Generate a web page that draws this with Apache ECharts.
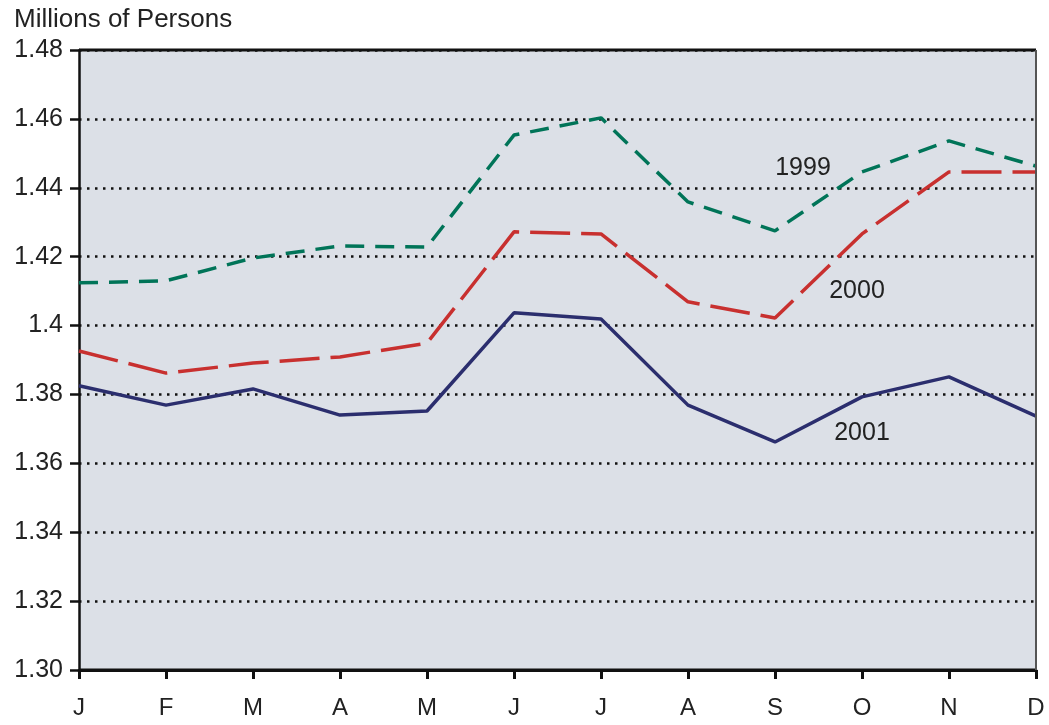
<!DOCTYPE html>
<html><head><meta charset="utf-8">
<script src="https://cdn.jsdelivr.net/npm/echarts@6/dist/echarts.min.js"></script>
<style>html,body{margin:0;padding:0;background:#fff}#c{width:1049px;height:725px}</style>
</head><body><div id="c"></div>
<script>
const months = ['J','F','M','A','M','J','J','A','S','O','N','D'];
const s1999 = [1.4124,1.4130,1.4196,1.4231,1.4228,1.4553,1.4603,1.4359,1.4275,1.4446,1.4536,1.4463];
const s2000 = [1.3926,1.3862,1.3891,1.3909,1.3949,1.4272,1.4266,1.4069,1.4022,1.4266,1.4446,1.4446];
const s2001 = [1.3825,1.3769,1.3816,1.3740,1.3752,1.4037,1.4019,1.3769,1.3662,1.3793,1.3851,1.3737];
const yTickLabels = {'1.3':'1.30','1.32':'1.32','1.34':'1.34','1.36':'1.36','1.38':'1.38','1.4':'1.4','1.42':'1.42','1.44':'1.44','1.46':'1.46','1.48':'1.48'};
const seriesLabels = [{text:'1999', x:803, y:168},{text:'2000', x:857, y:291},{text:'2001', x:862, y:433}];

const chart = echarts.init(document.getElementById('c'));
const font = 'Liberation Sans, Arial, sans-serif';
chart.setOption({
  animation:false,
  backgroundColor:'#fff',
  grid:{left:79,right:13,top:50,bottom:55,show:true,backgroundColor:'#dce0e7',borderColor:'#222',borderWidth:0},
  title:{text:'Millions of Persons',left:9,top:2,textStyle:{fontFamily:font,fontSize:26,fontWeight:'normal',color:'#222'}},
  xAxis:{type:'category',data:months,boundaryGap:false,
    axisLine:{lineStyle:{color:'#111',width:3}},
    axisTick:{show:true,length:9,inside:false,lineStyle:{color:'#111',width:3},alignWithLabel:true},
    axisLabel:{fontFamily:font,fontSize:24,color:'#222',margin:26},
    splitLine:{show:false}},
  yAxis:{type:'value',min:1.30,max:1.48,interval:0.02,
    axisLine:{show:true,lineStyle:{color:'#111',width:2.5}},
    axisTick:{show:true,length:9,lineStyle:{color:'#111',width:2.5}},
    axisLabel:{fontFamily:font,fontSize:25,color:'#222',margin:16,
      formatter:function(v){const k=String(Math.round(v*100)/100);return yTickLabels[k]!==undefined?yTickLabels[k]:k;}},
    splitLine:{show:true,lineStyle:{color:'#111',width:2.5,type:[2.5,5.5]}}},
  graphic:{elements:[
    {type:'line',zlevel:1,z:100,shape:{x1:79,y1:50,x2:1036,y2:50},style:{stroke:'#111',lineWidth:3}},
    {type:'line',zlevel:1,z:100,shape:{x1:79,y1:670,x2:1036,y2:670},style:{stroke:'#111',lineWidth:3}},
    {type:'line',zlevel:1,z:100,shape:{x1:1036,y1:50,x2:1036,y2:670},style:{stroke:'#555',lineWidth:2}}
  ].concat(seriesLabels.map(l=>({type:'text',zlevel:1,z:100,x:l.x,y:l.y,style:{text:l.text,font:'25px '+font,fill:'#222',textAlign:'center',textVerticalAlign:'middle'}})))},
  series:[
    {name:'1999',type:'line',data:s1999,symbol:'none',lineStyle:{color:'#007458',width:3.5,type:[19,11]}},
    {name:'2000',type:'line',data:s2000,symbol:'none',lineStyle:{color:'#c8302f',width:3.5,type:[40,11]}},
    {name:'2001',type:'line',data:s2001,symbol:'none',lineStyle:{color:'#2b2e6e',width:3.5}}
  ]
});
</script></body></html>
